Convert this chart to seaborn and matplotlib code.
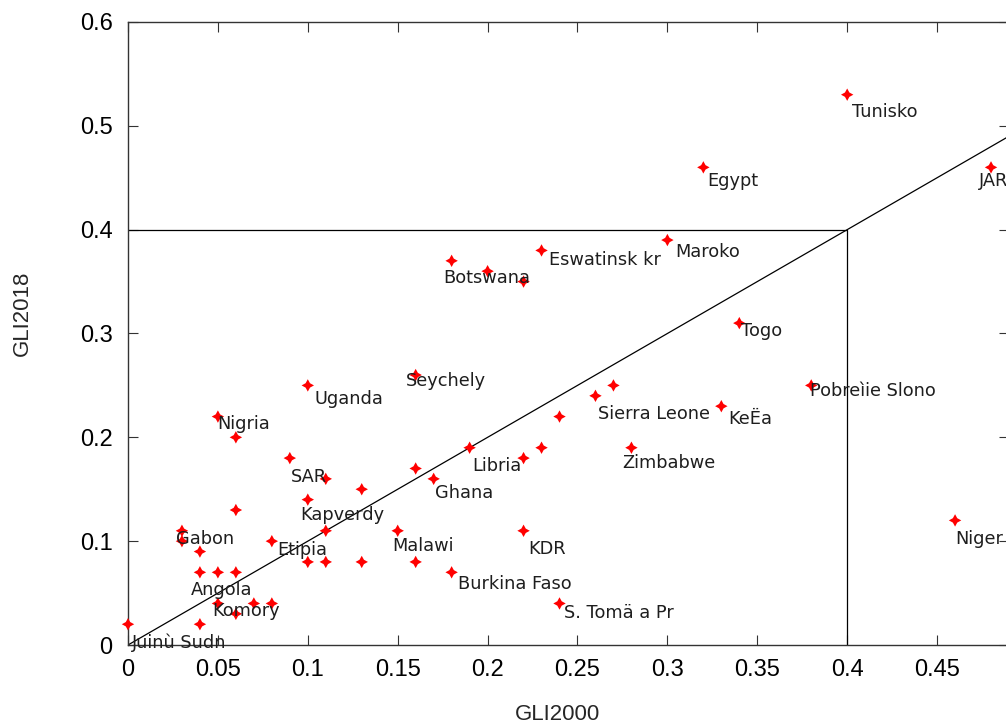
import matplotlib
matplotlib.use("Agg")
import matplotlib.pyplot as plt
import seaborn as sns
import pandas as pd

# ---- data -------------------------------------------------------------
labels = ["Tunisko", "Egypt", "JAR", "Maroko", "Eswatinsk kr", "Botswana",
          "Togo", "Seychely", "Uganda", "Nigria", "Pobreìie Slono",
          "Sierra Leone", "KeËa", "SAR", "Libria", "Zimbabwe", "Ghana",
          "Kapverdy", "Gabon", "Etipia", "Malawi", "KDR", "Angola",
          "Burkina Faso", "Komory", "S. Tomä a Pr", "Juinù Sudn", "Niger"]
gli2000_lab = [0.40, 0.32, 0.48, 0.30, 0.23, 0.18, 0.34, 0.16, 0.10, 0.05,
               0.38, 0.26, 0.33, 0.09, 0.19, 0.28, 0.17, 0.10, 0.03, 0.08,
               0.15, 0.22, 0.04, 0.18, 0.05, 0.24, 0.00, 0.46]
gli2018_lab = [0.53, 0.46, 0.46, 0.39, 0.38, 0.37, 0.31, 0.26, 0.25, 0.22,
               0.25, 0.24, 0.23, 0.18, 0.19, 0.19, 0.16, 0.14, 0.11, 0.10,
               0.11, 0.11, 0.07, 0.07, 0.04, 0.04, 0.02, 0.12]
# unlabeled countries
gli2000_other = [0.20, 0.22, 0.27, 0.24, 0.23, 0.22, 0.06, 0.11, 0.13, 0.16,
                 0.06, 0.03, 0.04, 0.11, 0.05, 0.06, 0.10, 0.11, 0.13, 0.16,
                 0.07, 0.08, 0.06, 0.04]
gli2018_other = [0.36, 0.35, 0.25, 0.22, 0.19, 0.18, 0.20, 0.16, 0.15, 0.17,
                 0.13, 0.10, 0.09, 0.11, 0.07, 0.07, 0.08, 0.08, 0.08, 0.08,
                 0.04, 0.04, 0.03, 0.02]

x_ticks = [0, 0.05, 0.1, 0.15, 0.2, 0.25, 0.3, 0.35, 0.4, 0.45]
x_ticklabels = ["0", "0.05", "0.1", "0.15", "0.2", "0.25", "0.3", "0.35", "0.4", "0.45"]
y_ticks = [0, 0.1, 0.2, 0.3, 0.4, 0.5, 0.6]
y_ticklabels = ["0", "0.1", "0.2", "0.3", "0.4", "0.5", "0.6"]
box_limit = 0.4

# label offsets (pixels, right / down from the point)
label_dx = [5, 4, -12, 8, 7, -8, 2, -10, 7, -1, -1, 3, 7, 1, 3, -9, 1, -8,
            -6, 5, -5, 5, -9, 6, -6, 4, 4, 0]
label_dy = [17, 14, 14, 12, 10, 17, 8, 6, 14, 7, 6, 18, 13, 19, 18, 15, 14,
            15, 8, 9, 15, 18, 18, 12, 8, 10, 19, 19]

df = pd.DataFrame({"GLI2000": gli2000_lab + gli2000_other,
                   "GLI2018": gli2018_lab + gli2018_other})

# ---- figure -----------------------------------------------------------
sns.set_style("ticks")
plt.rcParams["font.family"] = ["Liberation Sans", "DejaVu Sans"]

W, H = 1006, 727
fig = plt.figure(figsize=(W / 100, H / 100), dpi=100)
ax = fig.add_axes([128 / W, 82 / H, 881 / W, 623 / H])

ax.axline((0, 0), slope=1, color="black", lw=0.9, zorder=1)
ax.plot([0, box_limit, box_limit], [box_limit, box_limit, 0],
        color="black", lw=0.9, zorder=1)

sns.scatterplot(data=df, x="GLI2000", y="GLI2018", ax=ax, marker=(4, 1, 0),
                s=80, color="#ff0000", edgecolor="none", linewidth=0,
                zorder=3, clip_on=False)

for name, x, y, dx, dy in zip(labels, gli2000_lab, gli2018_lab, label_dx, label_dy):
    ax.annotate(name, (x, y), xytext=(dx, -dy), textcoords="offset pixels",
                ha="left", va="center", fontsize=12.8, color="#1e1e1e",
                family="DejaVu Sans", annotation_clip=False, zorder=4)

ax.set_xlim(0, 0.49)
ax.set_ylim(0, 0.6)
ax.set_xticks(x_ticks)
ax.set_xticklabels(x_ticklabels)
ax.set_yticks(y_ticks)
ax.set_yticklabels(y_ticklabels)

for sp in ax.spines.values():
    sp.set_visible(True)
    sp.set_color("#333333")
    sp.set_linewidth(1.0)

ax.tick_params(axis="both", which="both", direction="in", length=7,
               width=0.8, color="#333333", top=True, right=True)
ax.tick_params(axis="x", labelsize=17, pad=10, labelcolor="black")
ax.tick_params(axis="y", labelsize=17, pad=11, labelcolor="black")

ax.set_xlabel("GLI2000", fontsize=16)
ax.set_ylabel("GLI2018", fontsize=16)
ax.xaxis.set_label_coords(0.487, -0.095)
ax.yaxis.set_label_coords(-0.108, 0.533)

fig.savefig("out.png", dpi=100)
